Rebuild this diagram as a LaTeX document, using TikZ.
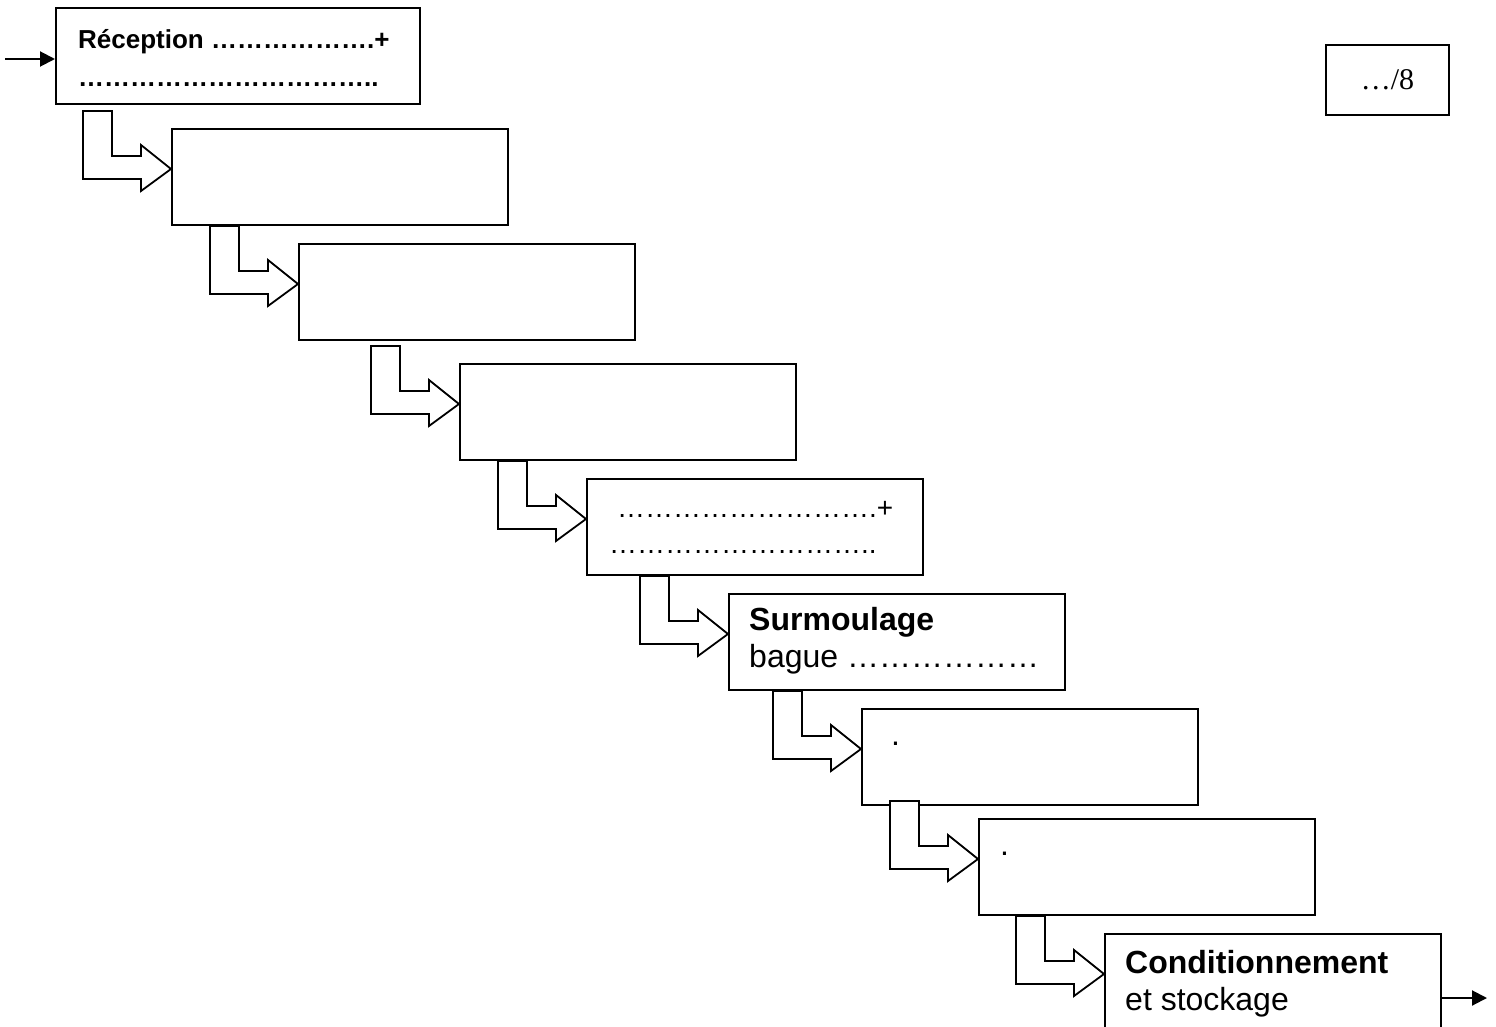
\documentclass[tikz,border=0pt]{standalone}
\usepackage{fontspec}
\setmainfont{Liberation Sans}
\newfontfamily\seriffont{Liberation Serif}
\usetikzlibrary{arrows.meta,calc}
\newcommand\bentarr[1]{\draw[bent] ($(#1.north west)+(0,41)$) ++(-88,-58) -- ++(29,0) -- ++(0,45) -- ++(29,0) -- ++(0,-11) -- ++(30,24) -- ++(-30,22) -- ++(0,-12) -- ++(-58,0) -- cycle;}
\begin{document}
\begin{tikzpicture}[x=1pt,y=-1pt,
  box/.style={draw,line width=2pt,minimum width=336pt,minimum height=96pt,inner sep=0pt,anchor=north west},
  txt/.style={anchor=base west,inner sep=0pt},
  bent/.style={draw,line width=1.8pt,fill=white,line join=miter},
  flow/.style={line width=2pt,-{Triangle[length=15pt,width=15pt]}}]
\useasboundingbox (0,0) rectangle (1496,1027);
% boxes
\node[box,minimum width=364pt] (b1) at (55,7) {};
\node[box] (b2) at (171,128) {};
\node[box] (b3) at (298,243) {};
\node[box] (b4) at (459,363) {};
\node[box] (b5) at (586,478) {};
\node[box] (b6) at (728,593) {};
\node[box] (b7) at (861,708) {};
\node[box] (b8) at (978,818) {};
\node[box,minimum height=110pt] (b9) at (1104,933) {};
\node[draw,line width=1.8pt,minimum width=123pt,minimum height=70pt,inner sep=0pt,anchor=north west] (score) at (1325,44) {};
% texts
\node[txt,font=\fontsize{26}{30}\selectfont\bfseries] (t1a) at (78,49) {Réception ……………….+};
\node[txt,font=\fontsize{26}{30}\selectfont\bfseries] (t1b) at (78,87) {……………………………..};
\node[txt,font=\fontsize{28}{32}\selectfont] (t5a) at (617,517) {……………………….+};
\node[txt,font=\fontsize{28}{32}\selectfont] (t5b) at (609,553) {………………………..};
\node[txt,font=\fontsize{32}{36}\selectfont\bfseries] (t6a) at (749,630) {Surmoulage};
\node[txt,font=\fontsize{32}{36}\selectfont] (t6b) at (749,667) {bague ………………};
\node[txt,font=\fontsize{32}{36}\selectfont] (t7) at (891,745) {.};
\node[txt,font=\fontsize{32}{36}\selectfont] (t8) at (1000,855) {.};
\node[txt,font=\fontsize{32}{36}\selectfont\bfseries] (t9a) at (1125,973) {Conditionnement};
\node[txt,font=\fontsize{32}{36}\selectfont] (t9b) at (1125,1010) {et stockage};
\node[font=\fontsize{30}{34}\seriffont] (ts) at (score.center) {…/8};
% bent arrows
\bentarr{b2}
\bentarr{b3}
\bentarr{b4}
\bentarr{b5}
\bentarr{b6}
\bentarr{b7}
\bentarr{b8}
\bentarr{b9}
% entry / exit arrows
\coordinate (in) at (5,59);
\coordinate (out) at (1487,998);
\draw[flow] (in) -- (in -| b1.west);
\draw[flow] (out -| b9.east) -- (out);
\end{tikzpicture}
\end{document}
